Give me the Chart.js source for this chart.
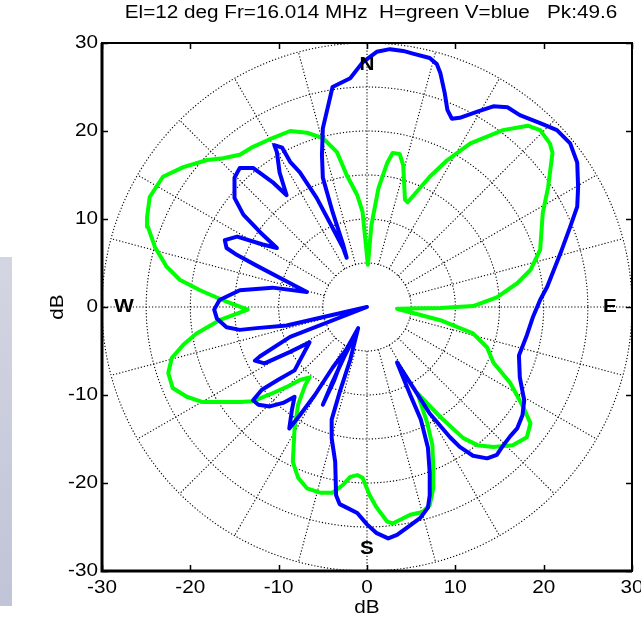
<!DOCTYPE html>
<html><head><meta charset="utf-8">
<script src="https://cdn.jsdelivr.net/npm/chart.js@4.4.1/dist/chart.umd.min.js"></script>
<style>html,body{margin:0;padding:0;background:#fff;overflow:hidden}</style>
</head><body>
<canvas id="c" width="641" height="623"></canvas>
<script>
// ---- chart text ----
const titleText = 'El=12 deg Fr=16.014 MHz  H=green V=blue   Pk:49.6';
const axisLabel = 'dB';
const tickValues = [-30, -20, -10, 0, 10, 20, 30];
const ringRadii = [5, 10, 15, 20, 25, 30];
const spokeStepDeg = 15;
const compassLabels = ['N', 'E', 'S', 'W'];
const compassAz = [0, 90, 180, 270];
const compassRadius = 27.5;

// ---- H (green) trace, dB x / dB y ----
const hX = [0.1,0.5,1.3,2.3,2.9,3.7,4.1,4.3,4.6,7.1,9.1,11.7,15.4,18.2,19.6,20.7,21.0,20.5,19.9,19.6,18.5,17.0,14.7,12.0,8.3,3.4,8.3,12.0,13.6,14.3,16.2,17.7,18.5,18.1,16.5,14.3,12.5,10.9,8.3,5.7,6.8,7.4,7.5,7.5,7.1,6.3,4.9,2.9,2.3,1.1,0.3,-0.5,-1.1,-1.9,-2.7,-3.9,-5.3,-6.8,-7.8,-8.4,-8.2,-7.8,-7.0,-6.5,-7.6,-8.7,-10.7,-12.9,-14.4,-18.6,-20.4,-22.0,-22.5,-22.1,-20.8,-19.3,-16.7,-13.5,-15.9,-18.9,-21.2,-22.7,-24.0,-24.8,-24.9,-24.6,-23.1,-20.8,-18.1,-16.3,-14.4,-12.9,-10.7,-8.7,-6.8,-5.0,-3.4,-2.3,-1.1,-0.5,0.1];
const hY = [4.8,9.3,13.5,16.4,17.5,17.4,16.1,12.2,11.9,14.8,16.7,18.6,20.1,20.6,20.1,18.6,17.5,13.6,10.7,6.5,4.2,2.7,1.1,0.1,-0.1,-0.2,-1.5,-3.0,-4.6,-6.3,-8.6,-11.4,-13.2,-14.8,-15.7,-15.9,-15.7,-14.9,-12.5,-9.8,-13.1,-15.7,-18.3,-20.6,-22.5,-23.3,-23.6,-24.6,-24.4,-22.8,-21.4,-19.4,-19.1,-19.3,-20.2,-21.1,-21.1,-20.6,-19.4,-17.6,-13.8,-11.1,-8.9,-8.0,-8.3,-8.9,-9.8,-10.7,-10.8,-10.8,-10.2,-9.2,-7.5,-5.8,-4.3,-3.0,-1.5,-0.3,0.6,1.9,3.1,4.6,6.8,9.1,10.2,12.5,14.8,15.9,16.7,16.9,17.3,18.2,19.2,20.0,19.8,19.2,17.6,15.0,12.7,10.8,4.8];

// ---- V (blue) trace, dB x / dB y ----
const vX = [-2.3,-2.7,-3.9,-5.0,-5.1,-5.0,-3.9,-1.9,-0.5,1.1,2.6,4.1,5.2,7.1,7.9,8.3,8.8,9.1,9.6,10.5,12.5,14.3,15.9,17.3,19.6,21.5,23.0,23.8,23.9,23.8,23.0,21.9,20.4,19.6,18.8,18.1,17.2,17.3,17.8,17.6,17.0,16.2,15.3,14.7,13.6,12.0,10.5,9.4,7.1,5.2,3.4,4.9,6.1,6.9,7.1,7.1,6.9,6.0,4.5,3.4,2.4,1.1,0.0,-1.1,-2.3,-3.1,-3.5,-3.6,-4.0,-4.0,-3.1,-1.9,-1.0,-2.5,-3.7,-5.0,-3.9,-2.6,-1.8,-3.9,-5.9,-7.6,-8.8,-8.5,-8.2,-9.5,-11.0,-12.3,-12.9,-11.9,-10.1,-8.2,-6.5,-8.7,-11.6,-12.7,-12.1,-8.7,0.0,-9.1,-12.5,-14.4,-15.9,-17.0,-17.3,-16.7,-14.4,-10.7,-6.8,-8.7,-12.5,-14.7,-15.9,-16.1,-14.7,-11.8,-10.2,-12.1,-14.0,-15.0,-15.0,-14.4,-12.9,-10.7,-9.1,-9.9,-10.2,-10.5,-9.6,-8.7,-7.6,-5.7,-3.9,-2.7,-2.3];
const vY = [5.6,7.1,10.8,14.7,17.3,20.3,25.0,26.0,27.8,29.0,29.3,29.1,28.8,28.3,27.6,26.6,24.3,22.4,21.4,21.5,22.2,22.8,22.7,21.8,20.9,20.1,18.6,16.4,13.6,11.4,9.1,6.1,2.3,0.8,-1.1,-3.2,-5.5,-8.0,-10.6,-12.3,-13.8,-14.7,-15.9,-16.8,-17.2,-16.9,-15.9,-14.8,-12.1,-9.1,-6.3,-10.0,-12.8,-16.0,-18.8,-21.4,-22.8,-24.0,-25.1,-25.9,-26.3,-25.7,-24.7,-23.4,-22.8,-22.4,-21.4,-17.6,-14.9,-12.8,-9.7,-6.0,-2.4,-5.1,-8.3,-11.1,-8.5,-5.7,-4.1,-6.9,-10.0,-12.3,-13.8,-11.7,-10.2,-10.9,-11.3,-11.1,-10.6,-9.4,-8.3,-7.2,-4.0,-5.1,-6.4,-6.1,-5.6,-3.4,0.0,-2.1,-2.4,-2.6,-2.3,-1.3,-0.3,0.8,1.9,2.2,1.7,2.7,4.7,5.9,6.7,7.6,8.0,7.1,6.7,8.5,10.5,12.4,14.7,15.8,15.8,14.2,12.7,15.3,17.6,18.4,18.1,16.5,15.3,12.4,9.0,6.7,5.6];

const FONT = '"Liberation Sans", Arial, Helvetica, sans-serif';
const STRETCH = 1.15;

function drawText(ctx, s, x, y, align, size, bold, rot) {
  ctx.save();
  ctx.translate(x, y);
  if (rot) ctx.rotate(rot);
  ctx.scale(STRETCH, 1);
  ctx.font = (bold ? 'bold ' : '') + size + 'px ' + FONT;
  ctx.textAlign = align;
  ctx.textBaseline = 'middle';
  ctx.fillStyle = '#000';
  ctx.fillText(s, 0, 0);
  ctx.restore();
}

const polarPlugin = {
  id: 'polarFrame',
  beforeDraw(chart) {
    const ctx = chart.ctx;
    ctx.save();
    ctx.fillStyle = '#fff';
    ctx.fillRect(0, 0, chart.width, chart.height);
    const g = ctx.createLinearGradient(0, 257, 0, 606);
    g.addColorStop(0, '#d3d5e2');
    g.addColorStop(1, '#c1c4d7');
    ctx.fillStyle = g;
    ctx.fillRect(0, 257, 12, 349);
    ctx.restore();
  },
  beforeDatasetsDraw(chart) {
    const ctx = chart.ctx, xs = chart.scales.x, ys = chart.scales.y, a = chart.chartArea;
    const cx = xs.getPixelForValue(0), cy = ys.getPixelForValue(0);
    const kx = xs.getPixelForValue(1) - cx, ky = cy - ys.getPixelForValue(1);
    ctx.save();
    ctx.beginPath();
    ctx.rect(a.left, a.top, a.right - a.left, a.bottom - a.top);
    ctx.clip();
    ctx.strokeStyle = '#000';
    ctx.lineWidth = 1.1;
    ctx.setLineDash([1.2, 2]);
    ringRadii.forEach(r => {
      ctx.beginPath();
      ctx.ellipse(cx, cy, r * kx, r * ky, 0, 0, Math.PI * 2);
      ctx.stroke();
    });
    const rIn = ringRadii[0], rOut = ringRadii[ringRadii.length - 1];
    for (let d = 0; d < 360; d += spokeStepDeg) {
      const t = d * Math.PI / 180;
      ctx.beginPath();
      ctx.moveTo(cx + rIn * kx * Math.cos(t), cy - rIn * ky * Math.sin(t));
      ctx.lineTo(cx + rOut * kx * Math.cos(t), cy - rOut * ky * Math.sin(t));
      ctx.stroke();
    }
    ctx.restore();
  },
  afterDatasetsDraw(chart) {
    const ctx = chart.ctx, xs = chart.scales.x, ys = chart.scales.y, a = chart.chartArea;
    // compass letters
    compassLabels.forEach((t, i) => {
      const az = compassAz[i] * Math.PI / 180;
      drawText(ctx, t, xs.getPixelForValue(compassRadius * Math.sin(az)),
               ys.getPixelForValue(compassRadius * Math.cos(az)), 'center', 18, true);
    });
    // frame
    ctx.save();
    ctx.strokeStyle = '#000';
    ctx.lineWidth = 2;
    ctx.strokeRect(a.left, a.top, a.right - a.left, a.bottom - a.top);
    ctx.lineWidth = 3;
    ctx.beginPath();
    ctx.moveTo(a.left, a.top); ctx.lineTo(a.left, a.bottom); ctx.lineTo(a.right, a.bottom);
    ctx.stroke();
    ctx.lineWidth = 1.5;
    const tl = 6;
    ctx.beginPath();
    xs.ticks.forEach(tk => {
      const px = Math.round(xs.getPixelForValue(tk.value)) + 0.5;
      ctx.moveTo(px, a.bottom); ctx.lineTo(px, a.bottom - tl);
      ctx.moveTo(px, a.top); ctx.lineTo(px, a.top + tl);
    });
    ys.ticks.forEach(tk => {
      const py = Math.round(ys.getPixelForValue(tk.value)) + 0.5;
      ctx.moveTo(a.left, py); ctx.lineTo(a.left + tl, py);
      ctx.moveTo(a.right, py); ctx.lineTo(a.right - tl, py);
    });
    ctx.stroke();
    ctx.restore();
    // tick labels
    xs.ticks.forEach(tk => drawText(ctx, String(tk.value), xs.getPixelForValue(tk.value), a.bottom + 17, 'center', 18, false));
    ys.ticks.forEach(tk => drawText(ctx, String(tk.value), a.left - 4, ys.getPixelForValue(tk.value), 'right', 18, false));
    // axis titles and title
    drawText(ctx, axisLabel, (a.left + a.right) / 2, a.bottom + 37, 'center', 18, false);
    drawText(ctx, axisLabel, 58, (a.top + a.bottom) / 2, 'center', 18, false, -Math.PI / 2);
    drawText(ctx, titleText, 371, 13, 'center', 18, false);
  }
};

new Chart(document.getElementById('c'), {
  type: 'scatter',
  data: {
    datasets: [
      { label: 'V=blue', data: vX.map((x, i) => ({ x, y: vY[i] })), showLine: true,
        borderColor: '#0000ff', borderWidth: 4, pointRadius: 0, fill: false, order: 1 },
      { label: 'H=green', data: hX.map((x, i) => ({ x, y: hY[i] })), showLine: true,
        borderColor: '#00ff00', borderWidth: 4, pointRadius: 0, fill: false, order: 2 }
    ]
  },
  options: {
    responsive: false, animation: false, devicePixelRatio: 1,
    layout: { padding: { left: 0, right: 9, top: 43, bottom: 0 } },
    elements: { line: { tension: 0, borderJoinStyle: 'round', borderCapStyle: 'round' } },
    plugins: { legend: { display: false }, tooltip: { enabled: false }, title: { display: false } },
    scales: {
      x: { type: 'linear', min: tickValues[0], max: tickValues[tickValues.length - 1],
           ticks: { display: false, stepSize: 10 }, grid: { display: false, drawTicks: false },
           border: { display: false }, afterFit(s) { s.height = 52; } },
      y: { type: 'linear', min: tickValues[0], max: tickValues[tickValues.length - 1],
           ticks: { display: false, stepSize: 10 }, grid: { display: false, drawTicks: false },
           border: { display: false }, afterFit(s) { s.width = 102; } }
    }
  },
  plugins: [polarPlugin]
});
</script>
</body></html>
